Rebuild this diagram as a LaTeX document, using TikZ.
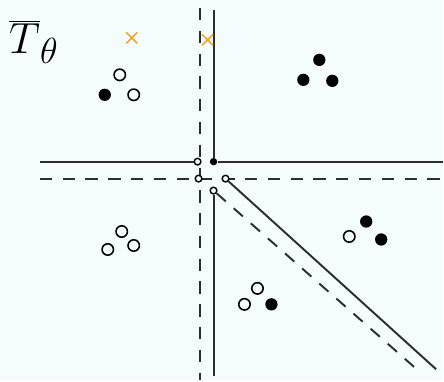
\documentclass[tikz,border=0pt]{standalone}
\usetikzlibrary{shapes.misc}
\definecolor{paper}{RGB}{244,252,254}
\definecolor{ink}{RGB}{45,45,45}
\definecolor{mark}{RGB}{245,160,30}
\tikzset{
            posdot/.style={circle,fill=black,inner sep=0pt,minimum size=7pt},
            negdot/.style={circle,draw=black,fill=paper,line width=0.9pt,inner sep=0pt,minimum size=6.5pt},
            joint/.style={circle,draw=black,fill=paper,line width=0.8pt,inner sep=0pt,minimum size=3.8pt},
            jointfull/.style={circle,fill=black,inner sep=0pt,minimum size=4.2pt},
            miss/.style={cross out,draw=mark,line width=0.8pt,inner sep=0pt,minimum size=5.5pt},
            cut/.style={ink,line width=1.1pt},
            cutd/.style={ink,line width=1.1pt,dash pattern=on 7pt off 6pt}
        }

\begin{document}
\begin{tikzpicture}[x=0.02cm,y=-0.02cm]
                \fill[paper] (0,0) rectangle (444,381);
                \node (title) at (34,42) {\Huge $\overline{T}_\theta$};
                % cuts
                \coordinate (vdt) at (200,8);
                \coordinate (vdb) at (200,381);
                \coordinate (vst) at (214,10);
                \coordinate (vsb) at (214,377);
                \coordinate (hsl) at (40,162);
                \coordinate (hsr) at (444,162);
                \coordinate (hdl) at (40,179);
                \coordinate (hdr) at (444,179);
                \coordinate (dse) at (437,370);
                \coordinate (dde) at (421,373);
                \draw[cutd] (vdt) -- (vdb);
                \draw[cutd] (hdl) -- (hdr);
                \node[joint] (jl) at (198,162) {};
                \node[jointfull] (jm) at (214,162) {};
                \node[joint] (jd) at (199,179) {};
                \node[joint] (jr) at (226,179) {};
                \node[joint] (jb) at (214,191) {};
                \draw[cut] (hsl) -- (jl);
                \draw[cut] (jm) -- (hsr);
                \draw[cut] (vst) -- (jm);
                \draw[cut] (jb) -- (vsb);
                \draw[cut] (jr) -- (dse);
                \draw[cutd] (jb) -- (dde);
                % samples
                \node[miss] (m1) at (132,38) {};
                \node[miss] (m2) at (208,40) {};
                \node[negdot] (a1) at (120,75) {};
                \node[negdot] (a2) at (134,95) {};
                \node[posdot] (a3) at (105,95) {};
                \node[posdot] (b1) at (320,60) {};
                \node[posdot] (b2) at (304,80) {};
                \node[posdot] (b3) at (333,81) {};
                \node[negdot] (c1) at (122,232) {};
                \node[negdot] (c2) at (108,250) {};
                \node[negdot] (c3) at (134,246) {};
                \node[negdot] (d1) at (258,289) {};
                \node[negdot] (d2) at (245,305) {};
                \node[posdot] (d3) at (272,305) {};
                \node[posdot] (e1) at (367,222) {};
                \node[posdot] (e2) at (382,240) {};
                \node[negdot] (e3) at (350,237) {};
            \end{tikzpicture}
\end{document}
